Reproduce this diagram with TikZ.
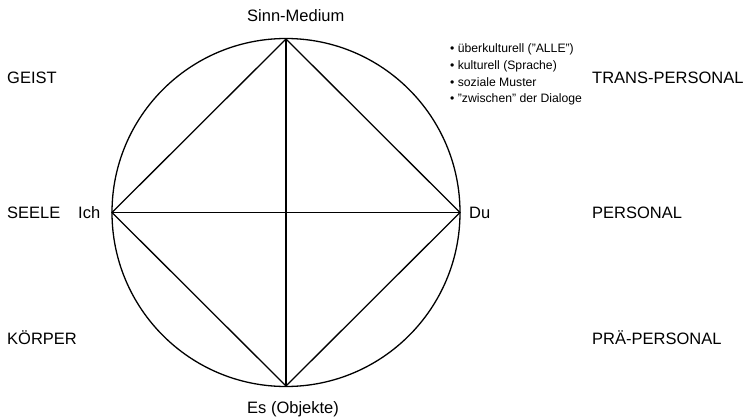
\documentclass[tikz,border=0pt]{standalone}
\usepackage{fontspec}
\setmainfont{Liberation Sans}
\begin{document}
\begin{tikzpicture}[x=1pt,y=-1pt,
  lbl/.style={inner sep=0pt,anchor=base west,font=\fontsize{16.5}{20}\selectfont},
  small/.style={inner sep=0pt,anchor=base west,font=\fontsize{12.2}{15}\selectfont},
  edge/.style={draw=black,line width=1.3pt}]
\useasboundingbox[fill=white] (0,0) rectangle (749,417);
\coordinate (T) at (286,39);
\coordinate (L) at (112,212.5);
\coordinate (R) at (460,212.5);
\coordinate (B) at (286,386);
\coordinate (C) at (286,212.5);
\draw[edge] (C) circle[radius=174pt];
\draw[edge] (T) -- (L) -- (B) -- (R) -- cycle;
\draw[edge] (T) -- (B);
\draw[edge] (L) -- (R);
\node[lbl] (sinn) at (247,22) {Sinn-Medium};
\node[lbl] (es) at (247,413) {Es (Objekte)};
\node[lbl] (geist) at (7,84) {GEIST};
\node[lbl] (seele) at (7,218) {SEELE};
\node[lbl] (koerper) at (7,344) {KÖRPER};
\node[lbl] (ich) at (78,218) {Ich};
\node[lbl] (du) at (469,218) {Du};
\node[lbl] (trans) at (592,84) {TRANS-PERSONAL};
\node[lbl] (pers) at (592,218) {PERSONAL};
\node[lbl] (prae) at (592,344) {PRÄ-PERSONAL};
\node[small] (b1) at (450,52.7) {\textbullet\ überkulturell ("ALLE")};
\node[small] (b2) at (450,69.4) {\textbullet\ kulturell (Sprache)};
\node[small] (b3) at (450,86.1) {\textbullet\ soziale Muster};
\node[small] (b4) at (450,102.8) {\textbullet\ "zwischen" der Dialoge};
\end{tikzpicture}
\end{document}
